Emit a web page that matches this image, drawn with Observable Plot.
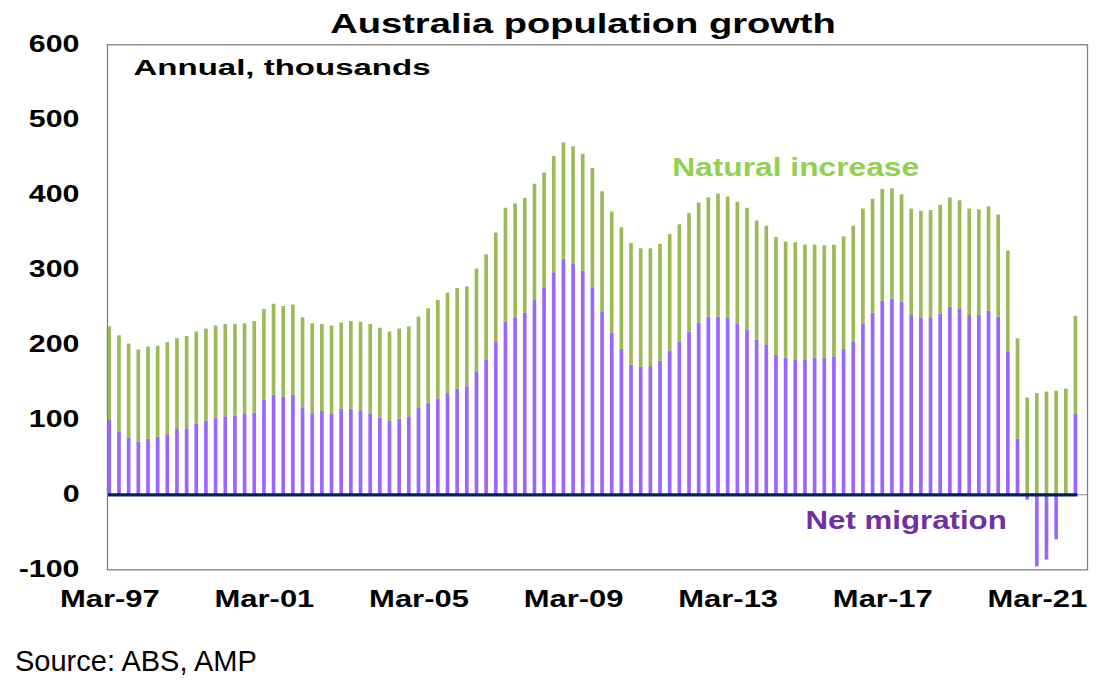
<!DOCTYPE html>
<html>
<head>
<meta charset="utf-8">
<script src="https://cdn.jsdelivr.net/npm/d3@7"></script>
<script src="https://cdn.jsdelivr.net/npm/@observablehq/plot@0.6"></script>
<style>
  body { margin: 0; background: white; }
  #wrap { position: relative; width: 1109px; height: 695px; background: white; overflow: hidden; }
  #title { position: relative; height: 34px; }
  #title span { position: absolute; left: 583px; top: 9.6px; white-space: nowrap;
    font: bold 28px/28px "Liberation Sans", Arial, sans-serif; color: #000;
    transform: translateX(-50%) scaleX(1.36); transform-origin: center; }
  #source { position: absolute; left: 15px; top: 646.5px; white-space: nowrap;
    font: 29px/29px "Liberation Sans", Arial, sans-serif; color: #000; }
</style>
</head>
<body>
<div id="wrap">
  <div id="title"><span>Australia population growth</span></div>
  <div id="chart"></div>
  <div id="source">Source: ABS, AMP</div>
</div>
<script>
// Quarterly categories, Mar-97 .. Mar-22
const monthNames = ["Mar", "Jun", "Sep", "Dec"];
const quarters = [];
for (let y = 1997; y <= 2022; y++) {
  for (const m of monthNames) {
    if (y === 2022 && m !== "Mar") break;
    quarters.push(m + "-" + String(y % 100).padStart(2, "0"));
  }
}

// Annual natural increase, thousands
const naturalIncrease = [
  125,128,126,123, 123,121,123,121, 123,123,123,123, 123,122,121,122,
  121,121,121,120, 121,120,116,117, 115,117,119,119, 120,119,120,120,
  121,126,131,134, 134,133,137,140, 146,152,152,153, 155,153,155,155,
  156,156,159,160, 161,162,162,158, 157,156,155,156, 158,160,159,164,
  162,162,163,159, 158,157,155,156, 154,151,150,149, 150,154,153,152,
  149,147,143,141, 142,143,145,146, 144,142,141,139, 136,135,134,129,
  135,137,138,141, 130
];

// Annual net overseas migration, thousands
const netMigration = [
   99, 84, 75, 70,  74, 77, 80, 87,  88, 94, 98,102, 104,105,107,109,
  126,133,130,133, 115,108,111,108, 114,114,111,108, 102, 98,101,104,
  116,122,128,135, 141,144,164,180, 203,230,236,242, 259,276,296,314,
  308,298,276,244, 216,194,173,170, 171,178,192,204, 217,229,237,237,
  235,228,219,206, 200,186,182,180, 179,182,182,184, 194,204,228,242,
  258,261,257,240, 236,236,241,250, 248,239,239,245, 237,190, 74, -7,
  -96,-87,-60,  0, 108
];

const seriesNames = ["Net migration", "Natural increase"];
const seriesColors = ["#9966FF", "#9BBB59"];
const xTicks = ["Mar-97", "Mar-01", "Mar-05", "Mar-09", "Mar-13", "Mar-17", "Mar-21"];
const yTicks = [-100, 0, 100, 200, 300, 400, 500, 600];
const notes = ["Annual, thousands"];

const rows = [];
quarters.forEach((q, i) => {
  rows.push({q, series: seriesNames[0], value: netMigration[i]});
  rows.push({q, series: seriesNames[1], value: naturalIncrease[i]});
});

const firstQ = quarters[0];
const lastQ = quarters[quarters.length - 1];

const chart = Plot.plot({
  width: 1109,
  height: 600,
  marginTop: 10.3,
  marginLeft: 107,
  marginRight: 22,
  marginBottom: 64.7,
  style: "font-family: 'Liberation Sans', Arial, sans-serif; font-weight: bold; background: white; color: black; overflow: visible;",
  x: {type: "band", domain: quarters, range: [104.5, 1080.3], paddingInner: 0.62, paddingOuter: 0.31, align: 0.5},
  y: {domain: [-100, 600]},
  color: {domain: seriesNames, range: seriesColors},
  marks: [
    Plot.ruleY([0], {stroke: "#8a8a8a", strokeWidth: 1}),
    Plot.barY(rows, {x: "q", y: "value", fill: "series"}),
    Plot.ruleY([0], {x1: () => firstQ, x2: () => lastQ, y: d => d, stroke: "#002060", strokeWidth: 3.3}),
    Plot.frame({stroke: "#7f7f7f", strokeWidth: 1.3}),
    Plot.axisY({ticks: yTicks, tickSize: 0, tickPadding: 28, fontSize: 23, tickFormat: d => String(d), label: null}),
    Plot.axisX({ticks: xTicks, tickSize: 0, tickPadding: 20.4, fontSize: 24, label: null}),
    Plot.text(notes, {frameAnchor: "top-left", dx: 26, dy: 30, lineAnchor: "bottom", textAnchor: "start", fontSize: 22, fill: "black"}),
    Plot.text([seriesNames[1]], {frameAnchor: "top-left", dx: 564.7, dy: 130.7, lineAnchor: "bottom", textAnchor: "start", fontSize: 25.6, fill: "#92D050"}),
    Plot.text([seriesNames[0]], {frameAnchor: "top-left", dx: 698, dy: 484, lineAnchor: "bottom", textAnchor: "start", fontSize: 25.6, fill: "#7030A0"})
  ]
});

document.getElementById("chart").appendChild(chart);

// Horizontal stretch of the chart texts, as in the reference
const stretch = {"Annual, thousands": 1.5, "Natural increase": 1.24, "Net migration": 1.22};
chart.querySelectorAll("text").forEach(t => {
  const s = t.textContent;
  let r = 1;
  if (/^Mar-/.test(s)) r = 1.29;
  else if (/^-?\d+$/.test(s)) r = 1.32;
  else if (stretch[s]) r = stretch[s];
  if (r !== 1) {
    const L = t.getComputedTextLength();
    t.setAttribute("textLength", (L * r).toFixed(2));
    t.setAttribute("lengthAdjust", "spacingAndGlyphs");
  }
});
</script>
</body>
</html>
